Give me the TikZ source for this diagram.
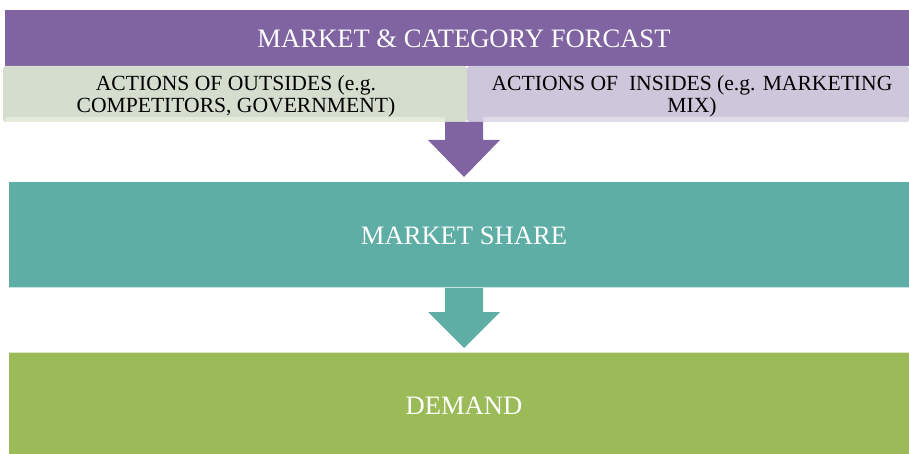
\documentclass[tikz,border=0pt]{standalone}
\usepackage{fontspec}
\setmainfont{Liberation Serif}
\definecolor{purp}{RGB}{128,100,162}
\definecolor{teal2}{RGB}{94,174,166}
\definecolor{olive2}{RGB}{155,187,89}
\definecolor{leftbox}{RGB}{213,221,207}
\definecolor{leftstrip}{RGB}{228,235,219}
\definecolor{rightbox}{RGB}{206,198,218}
\definecolor{rightstrip}{RGB}{223,217,232}
\begin{document}
\begin{tikzpicture}[x=1pt,y=-1pt,
  bigtext/.style={text=white,font=\fontsize{26.6}{30}\selectfont},
  subtext/.style={text=black,font=\fontsize{21.6}{22}\selectfont,align=center,inner sep=0pt}]
\useasboundingbox (0,0) rectangle (909,454);
% top bar
\fill[purp] (5,10) rectangle (909,66);
\node[bigtext] (title) at (464,39) {MARKET \& CATEGORY FORCAST};
% sub boxes
\fill[leftbox,rounded corners=3pt] (3,66) rectangle (467,122);
\fill[leftstrip,rounded corners=2pt] (5,117) rectangle (445,122);
\fill[rightbox,rounded corners=3pt] (467,66) rectangle (909,122);
\fill[rightstrip,rounded corners=2pt] (483,117) rectangle (909,122);
\node[subtext] (outside) at (236,96) {ACTIONS OF OUTSIDES (e.g.\\COMPETITORS, GOVERNMENT)};
\node[subtext] (inside) at (692,96) {ACTIONS OF\ \ INSIDES (e.g. MARKETING\\MIX)};
% arrow 1
\fill[purp] (445,122) -- (483,122) -- (483,140) -- (500,140) -- (464,177) -- (428,140) -- (445,140) -- cycle;
% market share
\fill[teal2] (9,182) rectangle (909,288);
\draw[white!65!teal2,line width=1pt] (9,287.5) -- (909,287.5);
\node[bigtext] (share) at (464,235.5) {MARKET SHARE};
% arrow 2
\fill[teal2] (445,288) -- (483,288) -- (483,312) -- (500,312) -- (464,348) -- (428,312) -- (445,312) -- cycle;
% demand
\fill[olive2] (9,352) rectangle (909,454);
\draw[white!65!olive2,line width=1pt] (9,352.5) -- (909,352.5);
\node[bigtext] (demand) at (464,406) {DEMAND};
\end{tikzpicture}
\end{document}
